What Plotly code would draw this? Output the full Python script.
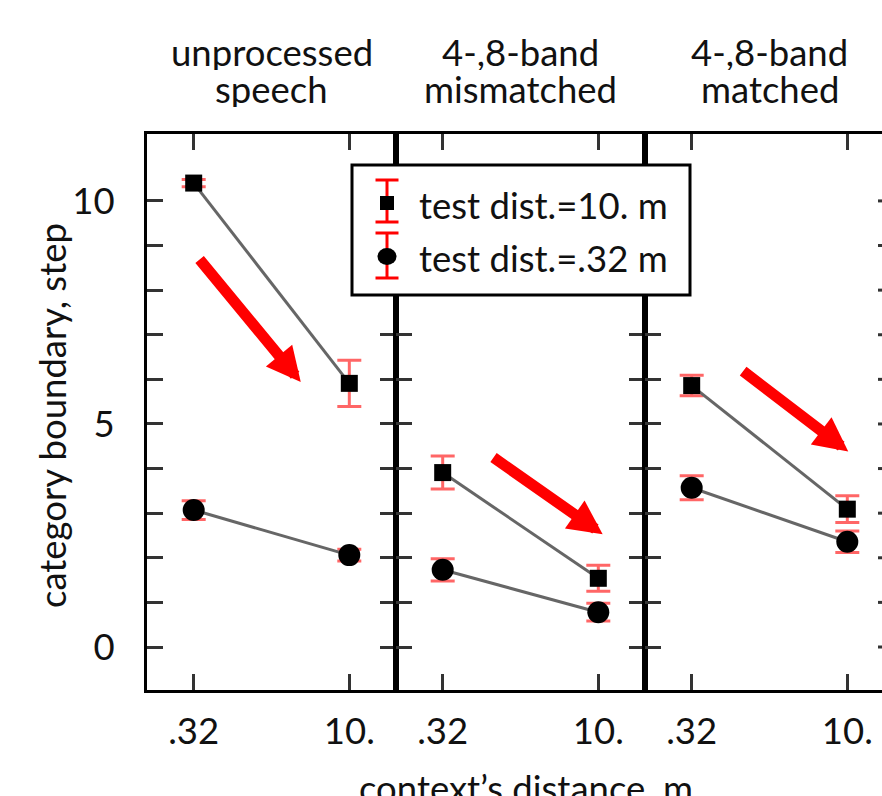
import plotly.graph_objects as go

# ---------------- data ----------------
categories = [".32", "10."]
panel_titles = [("unprocessed", "speech"), ("4-,8-band", "mismatched"), ("4-,8-band", "matched")]

sq_vals = [[10.40, 5.91], [3.91, 1.54], [5.86, 3.09]]      # test dist. = 10. m
sq_errs = [[0.08, 0.52], [0.37, 0.29], [0.23, 0.30]]
ci_vals = [[3.07, 2.06], [1.73, 0.78], [3.57, 2.36]]       # test dist. = .32 m
ci_errs = [[0.21, 0.13], [0.25, 0.20], [0.27, 0.24]]

y_tickvals = list(range(0, 11))
y_ticktext = ["0", "", "", "", "", "5", "", "", "", "", "10"]

legend_labels = ["test dist.=10. m", "test dist.=.32 m"]

# ---------------- layout helpers ----------------
W, H = 882, 796
L, T, B = 147, 134, 106
PW = W - L
PH = H - T - B


def px_x(p):
    return (p - L) / PW


def px_y(p):
    return (H - B - p) / PH


FONT = "Lato"
FS = 36.5
RED_ERR = "rgba(255,0,0,0.6)"
GRAY = "#666666"

fig = go.Figure()

xr_full = [-0.3, 1.3]
xr_last = [-0.3, -0.3 + (W - (L + 2 * 249)) / 155.625]
domains = [[0, 249 / PW], [249 / PW, 498 / PW], [498 / PW, 1.0]]

for i in range(3):
    xa = "x" if i == 0 else f"x{i+1}"
    ya = "y" if i == 0 else f"y{i+1}"
    fig.add_trace(go.Scatter(
        x=categories, y=sq_vals[i], xaxis=xa, yaxis=ya, mode="lines+markers",
        line=dict(color=GRAY, width=3),
        marker=dict(symbol="square", size=17, color="black"),
        error_y=dict(type="data", array=sq_errs[i], color=RED_ERR, thickness=3, width=12),
        showlegend=False, name=legend_labels[0]))
    fig.add_trace(go.Scatter(
        x=categories, y=ci_vals[i], xaxis=xa, yaxis=ya, mode="lines+markers",
        line=dict(color=GRAY, width=3),
        marker=dict(symbol="circle", size=22, color="black"),
        error_y=dict(type="data", array=ci_errs[i], color=RED_ERR, thickness=3, width=12),
        showlegend=False, name=legend_labels[1]))

axis_common = dict(showline=True, linecolor="black", linewidth=3,
                   ticks="inside", ticklen=16, tickwidth=3, tickcolor="#333333",
                   showgrid=False, zeroline=False,
                   tickfont=dict(family=FONT, size=FS, color="#111111"))

for i in range(3):
    sfx = "" if i == 0 else str(i + 1)
    fig.layout["xaxis" + sfx] = dict(
        axis_common, domain=domains[i], anchor="y" + sfx, type="category",
        categoryorder="array", categoryarray=categories,
        range=xr_last if i == 2 else xr_full,
        mirror="ticks", ticklabelstandoff=7)
    fig.layout["yaxis" + sfx] = dict(
        axis_common, domain=[0, 1], anchor="x" + sfx, range=[-0.964, 11.5],
        tickvals=y_tickvals, ticktext=y_ticktext,
        showticklabels=(i == 0), mirror=("ticks" if i < 2 else False),
        ticklabelstandoff=22)

shapes = []
# inward ticks of the (off-screen) right border of the last panel
for v in y_tickvals:
    shapes.append(dict(type="line", xref="x3", yref="y3", x0=1.3 - 16 / 155.625, x1=1.3,
                       y0=v, y1=v, line=dict(color="#333333", width=3), layer="above"))

# legend box
shapes.append(dict(type="rect", xref="paper", yref="paper",
                   x0=px_x(352), x1=px_x(690), y0=px_y(295), y1=px_y(165),
                   line=dict(color="black", width=3), fillcolor="white", layer="above"))
# legend symbols
LX = 387
for (ytop, ybot) in [(180, 222), (233, 278)]:
    shapes.append(dict(type="line", xref="paper", yref="paper", x0=px_x(LX), x1=px_x(LX),
                       y0=px_y(ytop), y1=px_y(ybot), line=dict(color="red", width=3), layer="above"))
    for yy in (ytop, ybot):
        shapes.append(dict(type="line", xref="paper", yref="paper", x0=px_x(LX - 11.5),
                           x1=px_x(LX + 11.5), y0=px_y(yy), y1=px_y(yy),
                           line=dict(color="red", width=3), layer="above"))
shapes.append(dict(type="rect", xref="paper", yref="paper", x0=px_x(LX - 7), x1=px_x(LX + 7),
                   y0=px_y(210), y1=px_y(196), fillcolor="black", line=dict(width=0), layer="above"))
shapes.append(dict(type="circle", xref="paper", yref="paper", x0=px_x(LX - 9.5), x1=px_x(LX + 9.5),
                   y0=px_y(265), y1=px_y(248), fillcolor="black", line=dict(width=0), layer="above"))

annotations = []
for txt, yc in zip(legend_labels, [205, 258]):
    annotations.append(dict(text=txt, xref="paper", yref="paper", x=px_x(417), y=px_y(yc),
                            xanchor="left", yanchor="middle", showarrow=False,
                            font=dict(family=FONT, size=FS, color="#111111")))

# panel titles
centers = [px_x(L + 124.5), px_x(L + 249 + 124.5), px_x(L + 498 + 124.5)]
for c, (l1, l2) in zip(centers, panel_titles):
    annotations.append(dict(text=l1, xref="paper", yref="paper", x=c, y=px_y(52),
                            xanchor="center", yanchor="middle", showarrow=False, height=36,
                            valign="middle",
                            font=dict(family=FONT, size=FS, color="#111111")))
    annotations.append(dict(text=l2, xref="paper", yref="paper", x=c, y=px_y(89),
                            xanchor="center", yanchor="middle", showarrow=False, height=36,
                            valign="middle",
                            font=dict(family=FONT, size=FS, color="#111111")))

# axis titles
annotations.append(dict(text="category boundary, step", xref="paper", yref="paper",
                        x=px_x(52), y=px_y(416), textangle=-90, xanchor="center", yanchor="middle",
                        showarrow=False, font=dict(family=FONT, size=FS, color="#111111")))
annotations.append(dict(text="context\u2019s distance, m", xref="paper", yref="paper",
                        x=px_x(526), y=px_y(788), xanchor="center", yanchor="middle",
                        showarrow=False, font=dict(family=FONT, size=FS, color="#111111")))

# red trend arrows
arrows = [("x", "y", (0.030, 8.72), (0.688, 5.94)),
          ("x2", "y2", (0.317, 4.27), (1.028, 2.53)),
          ("x3", "y3", (0.321, 6.21), (1.006, 4.38))]
for xr, yr, (tx, ty), (hx, hy) in arrows:
    annotations.append(dict(xref=xr, yref=yr, axref=xr, ayref=yr, x=hx, y=hy, ax=tx, ay=ty,
                            text="", showarrow=True, arrowhead=2, arrowsize=0.62,
                            arrowwidth=11, arrowcolor="red"))

fig.update_layout(width=W, height=H, margin=dict(l=L, r=0, t=T, b=B),
                  paper_bgcolor="white", plot_bgcolor="white",
                  shapes=shapes, annotations=annotations, showlegend=False,
                  font=dict(family=FONT, size=FS, color="#111111"))

fig.write_html("out.html")
